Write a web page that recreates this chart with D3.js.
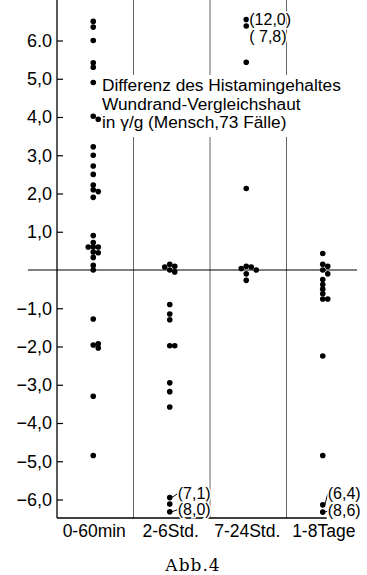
<!DOCTYPE html>
<html>
<head>
<meta charset="utf-8">
<title>Abb. 4</title>
<script src="https://d3js.org/d3.v7.min.js"></script>
<style>
  body { margin: 0; background: #fff; }
  text { font-family: "Liberation Sans", Arial, sans-serif; fill: #000; }
</style>
</head>
<body>
<svg width="367" height="575"></svg>
<script>
// data
var categories = ["0-60min", "2-6Std.", "7-24Std.", "1-8Tage"];
var vals0to60min = [6.5, 6.35, 6.0, 5.42, 5.3, 4.9, 4.02, 3.94, 3.22, 3.0, 2.72, 2.5, 2.22, 2.1, 2.05, 1.9,
                    0.9, 0.72, 0.6, 0.6, 0.6, 0.47, 0.45, 0.33, 0.12, 0.0,
                    -1.28, -1.96, -2.04, -1.93, -3.3, -4.85];
var vals2to6Std = [0.15, 0.1, 0.08, 0.0, -0.05, -0.9, -1.15, -1.3, -1.98, -1.98, -2.95, -3.18, -3.58,
                   -5.95, -6.12, -6.32];
var vals7to24Std = [6.55, 6.38, 5.43, 2.13, 0.1, 0.08, 0.04, 0.0, -0.1, -0.27];
var vals1to8Tage = [0.43, 0.15, 0.1, 0.0, -0.1, -0.25, -0.38, -0.5, -0.62, -0.76, -0.76, -2.25, -4.85,
                    -6.14, -6.33];
var seriesValues = [vals0to60min, vals2to6Std, vals7to24Std, vals1to8Tage];

var tickValues = [6, 5, 4, 3, 2, 1, -1, -2, -3, -4, -5, -6];
var tickLabels = ["6.0", "5,0", "4,0", "3,0", "2,0", "1,0",
                  "\u22121,0", "\u22122,0", "\u22123,0", "\u22124,0", "\u22125,0", "\u22126,0"];

// off-scale values written beside the dots
var offScale = [
  { cat: "7-24Std.", value: 6.55, text: "(12,0)" },
  { cat: "7-24Std.", value: 6.38, text: "( 7,8)" },
  { cat: "2-6Std.", value: -5.95, text: "(7,1)" },
  { cat: "2-6Std.", value: -6.32, text: "(8,0)" },
  { cat: "1-8Tage", value: -6.14, text: "(6,4)" },
  { cat: "1-8Tage", value: -6.33, text: "(8,6)" }
];

var titleLines = ["Differenz des Histamingehaltes", "Wundrand-Vergleichshaut", "in \u03b3/g (Mensch,73 F\u00e4lle)"];

var svg = d3.select("svg"),
    top = 10, bottom = 518, left = 57, right = 363;

var x = d3.scaleBand().domain(categories).range([left, right]);
var y = d3.scaleLinear().domain([-6, 6]).range([499.5, 40.5]);

function cx(cat) { return x(cat) + x.bandwidth() / 2 - 2; }

// column separators
svg.selectAll(".sep")
  .data(categories.slice(1))
  .enter().append("line")
  .attr("x1", function(d) { return x(d); })
  .attr("x2", function(d) { return x(d); })
  .attr("y1", top).attr("y2", bottom)
  .attr("stroke", "#666").attr("stroke-width", 1);

// zero line
svg.append("line")
  .attr("x1", 28).attr("x2", 357)
  .attr("y1", y(0)).attr("y2", y(0))
  .attr("stroke", "#000").attr("stroke-width", 1);

// y axis
svg.append("line")
  .attr("x1", left).attr("x2", left)
  .attr("y1", top).attr("y2", bottom)
  .attr("stroke", "#000").attr("stroke-width", 1.3);

svg.append("line")
  .attr("x1", left).attr("x2", cx("1-8Tage") + 4)
  .attr("y1", bottom).attr("y2", bottom)
  .attr("stroke", "#000").attr("stroke-width", 1.3);

var yAxis = svg.append("g")
  .attr("transform", "translate(" + left + ",0)")
  .call(d3.axisLeft(y)
    .tickValues(tickValues)
    .tickSize(-6)
    .tickPadding(5)
    .tickFormat(function(d, i) { return tickLabels[i]; }));
yAxis.select(".domain").remove();
yAxis.selectAll("line").attr("stroke", "#000").attr("stroke-width", 1.2);
yAxis.selectAll("text")
  .attr("font-family", "Liberation Sans, Arial, sans-serif")
  .attr("font-size", 18)
  .attr("fill", "#000");

// x labels
svg.selectAll(".xlab")
  .data(categories)
  .enter().append("text")
  .attr("x", function(d) { return cx(d) + 1; })
  .attr("y", 537)
  .attr("text-anchor", "middle")
  .attr("font-size", 17.5)
  .text(function(d) { return d; });

// title block (white behind it breaks the separators)
svg.append("rect")
  .attr("x", 100).attr("y", 75).attr("width", 267).attr("height", 62)
  .attr("fill", "#fff");
svg.selectAll(".title")
  .data(titleLines)
  .enter().append("text")
  .attr("x", 102)
  .attr("y", function(d, i) { return 91 + i * 18.5; })
  .attr("font-size", 17.3)
  .text(function(d) { return d; });

// dots, nudged sideways where they would sit on top of each other
var dots = [];
seriesValues.forEach(function(vals, ci) {
  var placed = [];
  vals.forEach(function(v) {
    var py = y(v), offs = [0, 5, -5, 10, -10], off = 0;
    for (var k = 0; k < offs.length; k++) {
      var ok = placed.every(function(p) { return Math.hypot(p.dx - offs[k], p.y - py) >= 4; });
      if (ok) { off = offs[k]; break; }
    }
    placed.push({ dx: off, y: py });
    dots.push({ cat: categories[ci], value: v, dx: off });
  });
});

svg.selectAll(".dot")
  .data(dots)
  .enter().append("circle")
  .attr("cx", function(d) { return cx(d.cat) + d.dx; })
  .attr("cy", function(d) { return y(d.value); })
  .attr("r", 2.8)
  .attr("fill", "#000");

// off-scale labels
var labelShift = { "(12,0)": [3, 6], "( 7,8)": [3, 16], "(7,1)": [8, 1], "(8,0)": [8, 3], "(6,4)": [5, -6], "(8,6)": [5, 4] };
offScale.forEach(function(a) {
  var px = cx(a.cat), py = y(a.value), s = labelShift[a.text];
  if (a.cat !== "7-24Std.") {
    svg.append("line")
      .attr("x1", px + 2).attr("y1", py)
      .attr("x2", px + s[0]).attr("y2", py + s[1] - 5)
      .attr("stroke", "#000").attr("stroke-width", 1);
  }
  svg.append("text")
    .attr("x", px + s[0])
    .attr("y", py + s[1])
    .attr("font-size", 16)
    .attr("stroke", "#fff").attr("stroke-width", 3)
    .attr("paint-order", "stroke")
    .text(a.text);
});

svg.append("text")
  .attr("x", 193)
  .attr("y", 571)
  .attr("text-anchor", "middle")
  .attr("font-size", 17)
  .attr("letter-spacing", 1)
  .style("font-family", "'DejaVu Serif', 'Liberation Serif', serif")
  .text("Abb.4");
</script>
</body>
</html>
